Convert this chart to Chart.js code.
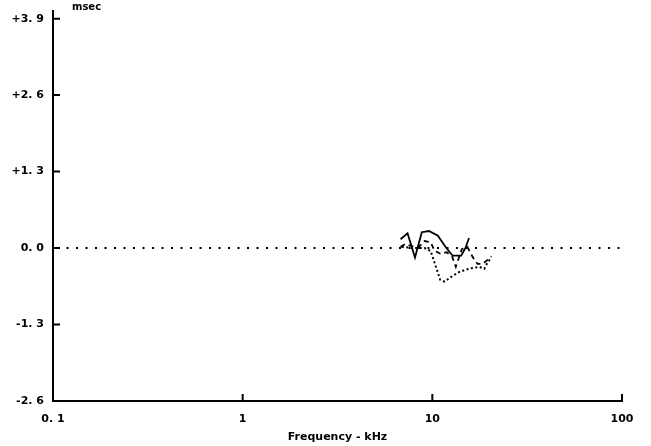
<!DOCTYPE html>
<html>
<head>
<meta charset="utf-8">
<script src="https://cdn.jsdelivr.net/npm/chart.js@4"></script>
<style>
  html, body { margin: 0; padding: 0; background: #fff; }
  #wrap { width: 651px; height: 446px; }
</style>
</head>
<body>
<div id="wrap"><canvas id="delayChart" width="651" height="446"></canvas></div>
<script>
// ---------------- Data ----------------
// frequency in kHz, delay in msec
const solidFreq = [6.8, 7.4, 8.1, 8.8, 9.6, 10.7, 11.8, 12.8, 14.2, 15.0, 15.6];
const solidVals = [0.15, 0.25, -0.16, 0.27, 0.29, 0.21, 0.01, -0.13, -0.13, 0.01, 0.17];

const dashedFreq = [6.8, 7.2, 7.85, 8.5, 9.1, 9.8, 10.3, 11.1, 11.9, 12.7, 13.3, 14.3, 15.3, 16.3, 17.3, 18.4, 19.6, 20.5];
const dashedVals = [0.02, 0.07, 0.03, 0.02, 0.12, 0.10, -0.05, -0.10, -0.07, -0.14, -0.32, -0.02, 0.02, -0.15, -0.27, -0.27, -0.20, -0.14];

const dottedFreq = [6.9, 8.0, 9.1, 9.8, 10.2, 11.0, 11.6, 12.3, 13.0, 13.8, 15.6, 17.7, 18.8, 19.5, 20.2];
const dottedVals = [0.02, 0.0, 0.0, -0.05, -0.22, -0.54, -0.57, -0.51, -0.46, -0.41, -0.35, -0.32, -0.35, -0.25, -0.19];

const zeroFreq = [0.105, 100];
const zeroVals = [0, 0];

const xTicks = [0.1, 1, 10, 100];
const xTickLabels = ["0. 1", "1", "10", "100"];
const yTicks = [-2.6, -1.3, 0, 1.3, 2.6, 3.9];

// ---------------- Helpers ----------------
function toPoints(xs, ys) {
  return xs.map((x, i) => ({ x: x, y: ys[i] }));
}

function fmtY(v) {
  const sign = v > 0.001 ? "+" : v < -0.001 ? "-" : "";
  return sign + Math.abs(v).toFixed(1).replace(".", ". ");
}

const FONT = "'DejaVu Sans', sans-serif";

// inward tick marks + "msec" label
const inwardTicks = {
  id: "inwardTicks",
  afterDraw(chart) {
    const ctx = chart.ctx;
    const xs = chart.scales.x;
    const ys = chart.scales.y;
    const area = chart.chartArea;
    ctx.save();
    ctx.strokeStyle = "#000";
    ctx.lineWidth = 2;
    ctx.beginPath();
    yTicks.forEach((v) => {
      if (v === yTicks[0]) return;
      const py = ys.getPixelForValue(v);
      ctx.moveTo(area.left, py);
      ctx.lineTo(area.left + 7, py);
    });
    xTicks.forEach((v) => {
      const px = xs.getPixelForValue(v);
      ctx.moveTo(px, area.bottom);
      ctx.lineTo(px, area.bottom - 7);
    });
    ctx.stroke();
    ctx.fillStyle = "#000";
    ctx.font = "bold 10px " + FONT;
    ctx.textBaseline = "middle";
    ctx.textAlign = "left";
    ctx.fillText("msec", area.left + 19, 7);
    ctx.restore();
  },
};

// ---------------- Chart ----------------
const lineStyle = { borderColor: "#000", pointRadius: 0, fill: false, tension: 0 };

new Chart(document.getElementById("delayChart").getContext("2d"), {
  type: "line",
  data: {
    datasets: [
      Object.assign({ label: "zero", data: toPoints(zeroFreq, zeroVals), borderWidth: 2, borderDash: [2, 7.5] }, lineStyle),
      Object.assign({ label: "solid", data: toPoints(solidFreq, solidVals), borderWidth: 1.8 }, lineStyle),
      Object.assign({ label: "dashed", data: toPoints(dashedFreq, dashedVals), borderWidth: 1.8, borderDash: [5, 4] }, lineStyle),
      Object.assign({ label: "dotted", data: toPoints(dottedFreq, dottedVals), borderWidth: 2, borderDash: [2, 2.5] }, lineStyle),
    ],
  },
  options: {
    responsive: false,
    animation: false,
    layout: { padding: { left: 0, top: 11, right: 29, bottom: 0 } },
    plugins: {
      legend: { display: false },
      tooltip: { enabled: false },
    },
    scales: {
      x: {
        type: "logarithmic",
        min: 0.1,
        max: 100,
        afterFit(scale) { scale.height = 45; },
        afterBuildTicks(scale) { scale.ticks = xTicks.map((v) => ({ value: v })); },
        grid: { display: false, drawTicks: false },
        border: { display: true, color: "#000", width: 2 },
        ticks: {
          color: "#000",
          font: { family: FONT, size: 11, weight: "bold" },
          padding: 12,
          maxRotation: 0,
          autoSkip: false,
          callback: (v, i) => xTickLabels[i],
        },
        title: {
          display: true,
          text: "Frequency - kHz",
          color: "#000",
          font: { family: FONT, size: 11, weight: "bold" },
          padding: { top: 0, bottom: 2 },
        },
      },
      y: {
        type: "linear",
        min: -2.6,
        max: 4.03,
        afterFit(scale) { scale.width = 53; },
        afterBuildTicks(scale) { scale.ticks = yTicks.map((v) => ({ value: v })); },
        // tick length only used as label offset; marks are drawn inward by the plugin
        grid: { display: false, drawTicks: true, tickLength: 9, tickColor: "rgba(0,0,0,0)" },
        border: { display: true, color: "#000", width: 2 },
        ticks: {
          color: "#000",
          font: { family: FONT, size: 11, weight: "bold" },
          padding: 0,
          autoSkip: false,
          callback: (v) => fmtY(v),
        },
      },
    },
  },
  plugins: [inwardTicks],
});
</script>
</body>
</html>
